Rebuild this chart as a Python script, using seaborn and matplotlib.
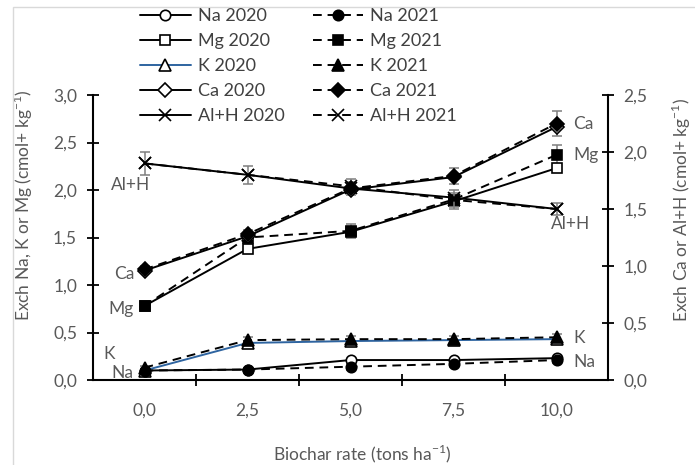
import matplotlib
matplotlib.use("Agg")
import matplotlib.pyplot as plt
import seaborn as sns
import numpy as np
from matplotlib.patches import Rectangle

# ---------------- data ----------------
rates = ["0,0", "2,5", "5,0", "7,5", "10,0"]
pos = [0, 1, 2, 3, 4]

# left axis (Na, K, Mg)
na_2020 = [0.10, 0.11, 0.21, 0.21, 0.23]
na_2021 = [0.10, 0.11, 0.14, 0.17, 0.21]
mg_2020 = [0.78, 1.38, 1.56, 1.88, 2.23]
mg_2021 = [0.78, 1.50, 1.57, 1.90, 2.37]
k_2020 = [0.10, 0.39, 0.41, 0.42, 0.43]
k_2021 = [0.13, 0.42, 0.43, 0.43, 0.45]
# right axis (Ca, Al+H)
ca_2020 = [0.96, 1.26, 1.67, 1.78, 2.22]
ca_2021 = [0.97, 1.28, 1.68, 1.79, 2.25]
alh_2020 = [1.90, 1.80, 1.68, 1.60, 1.50]
alh_2021 = [1.90, 1.80, 1.70, 1.58, 1.50]

# error bars (2021 series)
na_err = [0.02, 0.02, 0.03, 0.03, 0.03]
k_err = [0.02, 0.03, 0.03, 0.03, 0.03]
mg_err = [0.03, 0.05, 0.07, 0.10, 0.10]
ca_err = [0.03, 0.04, 0.06, 0.07, 0.11]
alh_err = [0.10, 0.08, 0.06, 0.06, 0.05]

# ---------------- style ----------------
sns.set_style("ticks")
plt.rcParams["font.family"] = ["Lato", "DejaVu Sans"]
GRAY = "#595959"
DARK = "#404040"
BLUE = "#2E64A0"
FS = 12.5

fig = plt.figure(figsize=(6.95, 4.65), dpi=100)
ax = fig.add_axes([93/695, 1-380/465, 515/695, 285/465])
ax2 = ax.twinx()

lw = 1.4
ms = 7.5
dash = (0, (4.5, 3))

def draw(axis, vals, label, marker, open_, style, color="black", err=None, ms_=ms):
    sns.lineplot(x=pos, y=vals, ax=axis, color=color, marker=marker,
                 linestyle=style, label=label, legend=False, errorbar=None,
                 linewidth=lw, markersize=ms_, markeredgecolor="black",
                 markeredgewidth=1.2,
                 markerfacecolor="white" if open_ else "black")
    if err is not None:
        axis.errorbar(pos, vals, yerr=err, fmt="none", ecolor="#7f7f7f",
                      elinewidth=1.1, capsize=3.5, capthick=1.1, zorder=1)

# 2020 solid
draw(ax, na_2020, "Na 2020", "o", True, "-")
draw(ax, mg_2020, "Mg 2020", "s", True, "-")
draw(ax, k_2020, "K 2020", "^", True, "-", ms_=8.5)
ax.lines[-1].set_color(BLUE)
ax.lines[-1].set_markeredgecolor("black")
draw(ax2, ca_2020, "Ca 2020", "D", True, "-", ms_=7)
draw(ax2, alh_2020, "Al+H 2020", "x", True, "-", ms_=9)
# 2021 dashed
draw(ax, na_2021, "Na 2021", "o", False, dash, err=na_err)
draw(ax, mg_2021, "Mg 2021", "s", False, dash, err=mg_err)
draw(ax, k_2021, "K 2021", "^", False, dash, err=k_err, ms_=8.5)
draw(ax2, ca_2021, "Ca 2021", "D", False, dash, err=ca_err, ms_=7)
draw(ax2, alh_2021, "Al+H 2021", "x", False, dash, err=alh_err, ms_=9)

# ---------------- axes ----------------
ax.set_xlim(-0.5, 4.5)
ax.set_ylim(0, 3.0)
ax2.set_ylim(0, 2.5)
lt = np.arange(0, 3.01, 0.5)
rt = np.arange(0, 2.51, 0.5)
ax.set_yticks(lt)
ax.set_yticklabels([f"{v:.1f}".replace(".", ",") for v in lt])
ax2.set_yticks(rt)
ax2.set_yticklabels([f"{v:.1f}".replace(".", ",") for v in rt])

ax.set_xticks([0.5, 1.5, 2.5, 3.5])
ax.set_xticklabels([])
ax.set_xticks(pos, minor=True)
ax.set_xticklabels(rates, minor=True)
ax.tick_params(axis="x", which="minor", length=0, pad=16, labelsize=FS, labelcolor=GRAY)
ax.tick_params(axis="x", which="major", direction="inout", length=9, width=1.3, color="black")
ax.tick_params(axis="y", direction="inout", length=9, width=1.3, color="black",
               labelsize=FS, labelcolor=GRAY, pad=7)
ax2.tick_params(axis="y", direction="inout", length=9, width=1.3, color="black",
                labelsize=FS, labelcolor=GRAY, pad=6.5)

for a in (ax, ax2):
    a.spines["top"].set_visible(False)
    for s in ("left", "right", "bottom"):
        a.spines[s].set_linewidth(1.5)
        a.spines[s].set_color("black")
ax.spines["right"].set_visible(False)
ax2.spines["left"].set_visible(False)
ax2.spines["bottom"].set_visible(False)

sup = r"$^{\mathregular{-1}}$"
ax.set_xlabel("Biochar rate (tons ha" + sup + ")", fontsize=FS, color=GRAY)
ax.xaxis.set_label_coords(0.524, -0.222)
ax.set_ylabel("Exch Na, K or Mg (cmol+ kg" + sup + ")", fontsize=FS, color=GRAY)
ax.yaxis.set_label_coords(-0.113, 0.614)
ax2.set_ylabel("Exch Ca or Al+H (cmol+ kg" + sup + ")", fontsize=FS, color=GRAY,
               rotation=90)
ax2.yaxis.set_label_coords(1.120, 0.596)

# ---------------- series labels ----------------
k = 0.72  # px -> points
def lab(axis, text, x, y, dx, dy):
    axis.annotate(text, xy=(x, y), xytext=(dx*k, dy*k), textcoords="offset points",
                  ha="center", va="center", fontsize=FS, color=GRAY)

lab(ax2, "Al+H", 0, alh_2020[0], -13.5, -22)
lab(ax2, "Ca", 0, ca_2020[0], -20.5, -3)
lab(ax, "Mg", 0, mg_2020[0], -23.5, -3)
lab(ax, "K", 0, k_2021[0], -35.5, 14)
lab(ax, "Na", 0, na_2020[0], -22.5, -2.5)
lab(ax2, "Ca", 4, ca_2021[4], 26.5, 0)
lab(ax, "Mg", 4, mg_2021[4], 29.5, 0)
lab(ax2, "Al+H", 4, alh_2020[4], 14.5, -15)
lab(ax, "K", 4, k_2021[4], 22.5, -1)
lab(ax, "Na", 4, na_2021[4], 27.5, -2)

# ---------------- legend ----------------
allh = {l.get_label(): l for l in ax.lines + ax2.lines if not l.get_label().startswith("_")}
order = ["Na 2020", "Mg 2020", "K 2020", "Ca 2020", "Al+H 2020",
         "Na 2021", "Mg 2021", "K 2021", "Ca 2021", "Al+H 2021"]
leg = fig.legend([allh[o] for o in order], order, ncol=2, loc="upper left",
                 bbox_to_anchor=(140/695, 1-8/465), frameon=False, fontsize=13,
                 handlelength=2.8, handletextpad=0.4, columnspacing=1.55,
                 labelspacing=0.5, borderpad=0, borderaxespad=0)
for t in leg.get_texts():
    t.set_color(DARK)

# chart-area border
fig.patches.append(Rectangle((13/695, -0.1), 1.2, 1-7/465+0.1, transform=fig.transFigure,
                             fill=False, edgecolor="#d9d9d9", linewidth=1))

fig.savefig("out.png", dpi=100)
